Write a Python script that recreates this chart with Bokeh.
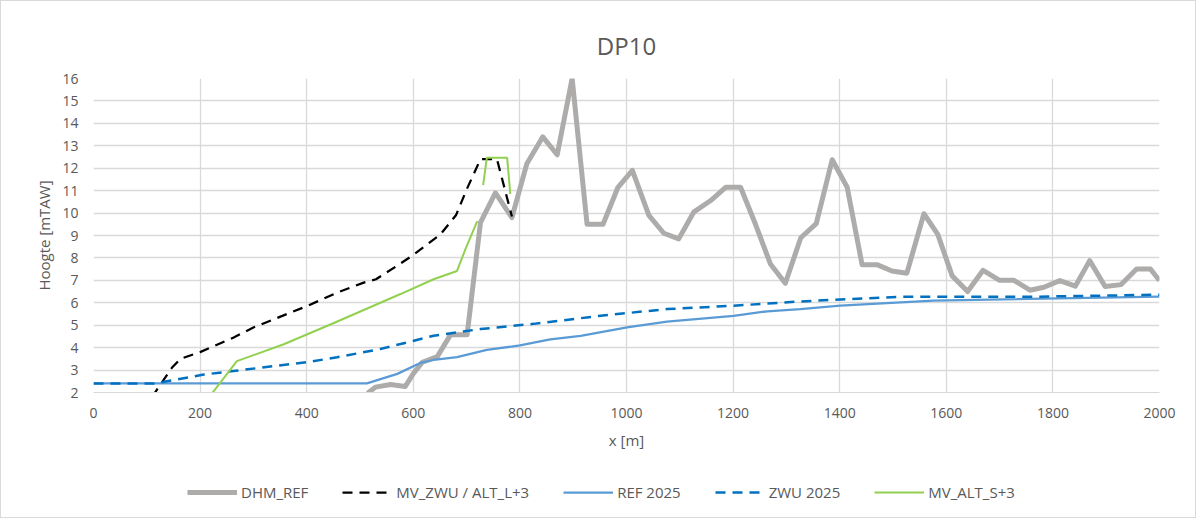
import math
from bokeh.plotting import figure
from bokeh.models import Range1d, Legend, LegendItem, FixedTicker
from bokeh.layouts import column
from bokeh.embed import file_html
from bokeh.resources import INLINE

nan = float("nan")

# DHM_REF
dhm_x = [500, 516, 529, 557, 585, 600, 617, 645, 670, 701, 726, 754, 785, 813, 843, 870, 898, 926, 956, 984,
         1011, 1042, 1070, 1098, 1126, 1158, 1186, 1214, 1242, 1270, 1298, 1327, 1356, 1386, 1414, 1442, 1470,
         1498, 1526, 1558, 1584, 1611, 1640, 1669, 1700, 1727, 1757, 1783, 1813, 1842, 1869, 1898, 1928, 1957,
         1983, 2000]
dhm_y = [1.2, 2.0, 2.24, 2.36, 2.27, 2.84, 3.35, 3.6, 4.58, 4.58, 9.57, 10.9, 9.8, 12.2, 13.4, 12.6, 16.0, 9.5,
         9.5, 11.15, 11.9, 9.9, 9.1, 8.85, 10.04, 10.56, 11.15, 11.15, 9.5, 7.73, 6.87, 8.9, 9.53, 12.38, 11.15,
         7.7, 7.7, 7.42, 7.32, 9.97, 9.05, 7.2, 6.5, 7.45, 7.0, 7.0, 6.56, 6.69, 6.99, 6.74, 7.88, 6.73, 6.81,
         7.51, 7.51, 6.99]

# MV_ZWU / ALT_L+3
mv_x = [110, 120, 147, 163, 200, 263, 300, 400, 457, 507, 530, 576, 601, 651, 680, 701, 726, 757, 785]
mv_y = [1.8, 2.16, 3.1, 3.5, 3.8, 4.45, 4.9, 5.85, 6.45, 6.9, 7.05, 7.75, 8.15, 9.05, 9.9, 11.1, 12.4, 12.4, 9.85]

# REF 2025
ref_x = [0, 513, 570, 613, 638, 682, 738, 800, 857, 914, 1001, 1076, 1201, 1264, 1326, 1401, 1576, 2000]
ref_y = [2.41, 2.41, 2.83, 3.32, 3.45, 3.58, 3.9, 4.1, 4.37, 4.52, 4.9, 5.16, 5.42, 5.62, 5.72, 5.87, 6.1, 6.28]

# ZWU 2025
zwu_x = [0, 113, 207, 400, 457, 538, 576, 601, 638, 726, 826, 951, 1076, 1201, 1326, 1514, 1764, 2000]
zwu_y = [2.4, 2.4, 2.8, 3.35, 3.57, 3.94, 4.16, 4.31, 4.53, 4.83, 5.06, 5.42, 5.72, 5.87, 6.06, 6.27, 6.27, 6.36]

# MV_ALT_S+3
alt_x = [222, 269, 357, 451, 576, 638, 682, 698, 720, nan, 731, 738, 776, 782]
alt_y = [1.95, 3.4, 4.15, 5.1, 6.39, 7.05, 7.42, 8.4, 9.64, nan, 11.25, 12.47, 12.47, 10.85]

series_names = ["DHM_REF", "MV_ZWU / ALT_L+3", "REF 2025", "ZWU 2025", "MV_ALT_S+3"]
x_ticks = [0, 200, 400, 600, 800, 1000, 1200, 1400, 1600, 1800, 2000]
y_ticks = list(range(2, 17))

FONT = "Open Sans"
TXT = "#595959"
GRID = "#d9d9d9"

styles = [
    dict(line_color="#AEABAB", line_width=5, line_join="round"),
    dict(line_color="black", line_width=2.25, line_dash="10 7"),
    dict(line_color="#5B9BD5", line_width=2.25),
    dict(line_color="#0070C0", line_width=2.5, line_dash="10 7"),
    dict(line_color="#92D050", line_width=2),
]
data = [(dhm_x, dhm_y), (mv_x, mv_y), (ref_x, ref_y), (zwu_x, zwu_y), (alt_x, alt_y)]

p = figure(width=1194, height=460, output_backend="svg", toolbar_location=None,
           x_range=Range1d(0, 2000), y_range=Range1d(2, 16),
           min_border_left=92, min_border_right=36, min_border_top=77, min_border_bottom=69,
           title="DP10")

p.title.align = "center"
p.title.text_font = FONT
p.title.text_font_size = "24px"
p.title.text_font_style = "normal"
p.title.text_color = TXT
p.title.standoff = 34

p.outline_line_color = None
p.xgrid.ticker = FixedTicker(ticks=x_ticks)
p.ygrid.ticker = FixedTicker(ticks=y_ticks)
p.xgrid.grid_line_color = GRID
p.ygrid.grid_line_color = GRID
p.xgrid.grid_line_width = 1.3
p.ygrid.grid_line_width = 1.3

p.xaxis.ticker = FixedTicker(ticks=x_ticks)
p.yaxis.ticker = FixedTicker(ticks=y_ticks)
for ax in (p.xaxis[0], p.yaxis[0]):
    ax.major_tick_out = 0
    ax.major_tick_in = 0
    ax.minor_tick_out = 0
    ax.minor_tick_in = 0
    ax.major_label_text_font = FONT
    ax.major_label_text_font_size = "14px"
    ax.major_label_text_color = TXT
    ax.axis_label_text_font = FONT
    ax.axis_label_text_font_size = "15px"
    ax.axis_label_text_font_style = "normal"
    ax.axis_label_text_color = TXT
p.xaxis.axis_line_color = GRID
p.yaxis.axis_line_color = None
p.xaxis.major_label_standoff = 15
p.yaxis.major_label_standoff = 15
p.xaxis.axis_label = "x [m]"
p.yaxis.axis_label = "Hoogte [mTAW]"
p.xaxis.axis_label_standoff = 9
p.yaxis.axis_label_standoff = 5

for (xs, ys), st in zip(data, styles):
    p.line(xs, ys, **st)

# legend strip below the chart (same series, kept out of its view; only the legend shows)
pl = figure(width=1194, height=56, output_backend="svg", toolbar_location=None,
            x_range=Range1d(0, 2000), y_range=Range1d(100, 101),
            x_axis_location=None, y_axis_location=None,
            min_border=0)
pl.outline_line_color = None
pl.xgrid.visible = False
pl.ygrid.visible = False
items = []
for name, (xs, ys), st in zip(series_names, data, styles):
    r = pl.line(xs, ys, **st)
    items.append(LegendItem(label=name, renderers=[r]))

legend = Legend(items=items, orientation="horizontal", location=(94, 15))
legend.padding = 0
legend.margin = 0
legend.spacing = 34
legend.glyph_width = 50
legend.glyph_height = 20
legend.label_standoff = 4
legend.label_text_font = FONT
legend.label_text_font_size = "15px"
legend.label_text_color = TXT
legend.border_line_alpha = 0
legend.background_fill_alpha = 0
pl.add_layout(legend, "center")

layout = column(p, pl, spacing=0)
layout.styles = {"border": "1px solid #d9d9d9"}

open("out.html", "w").write(file_html(layout, INLINE))
